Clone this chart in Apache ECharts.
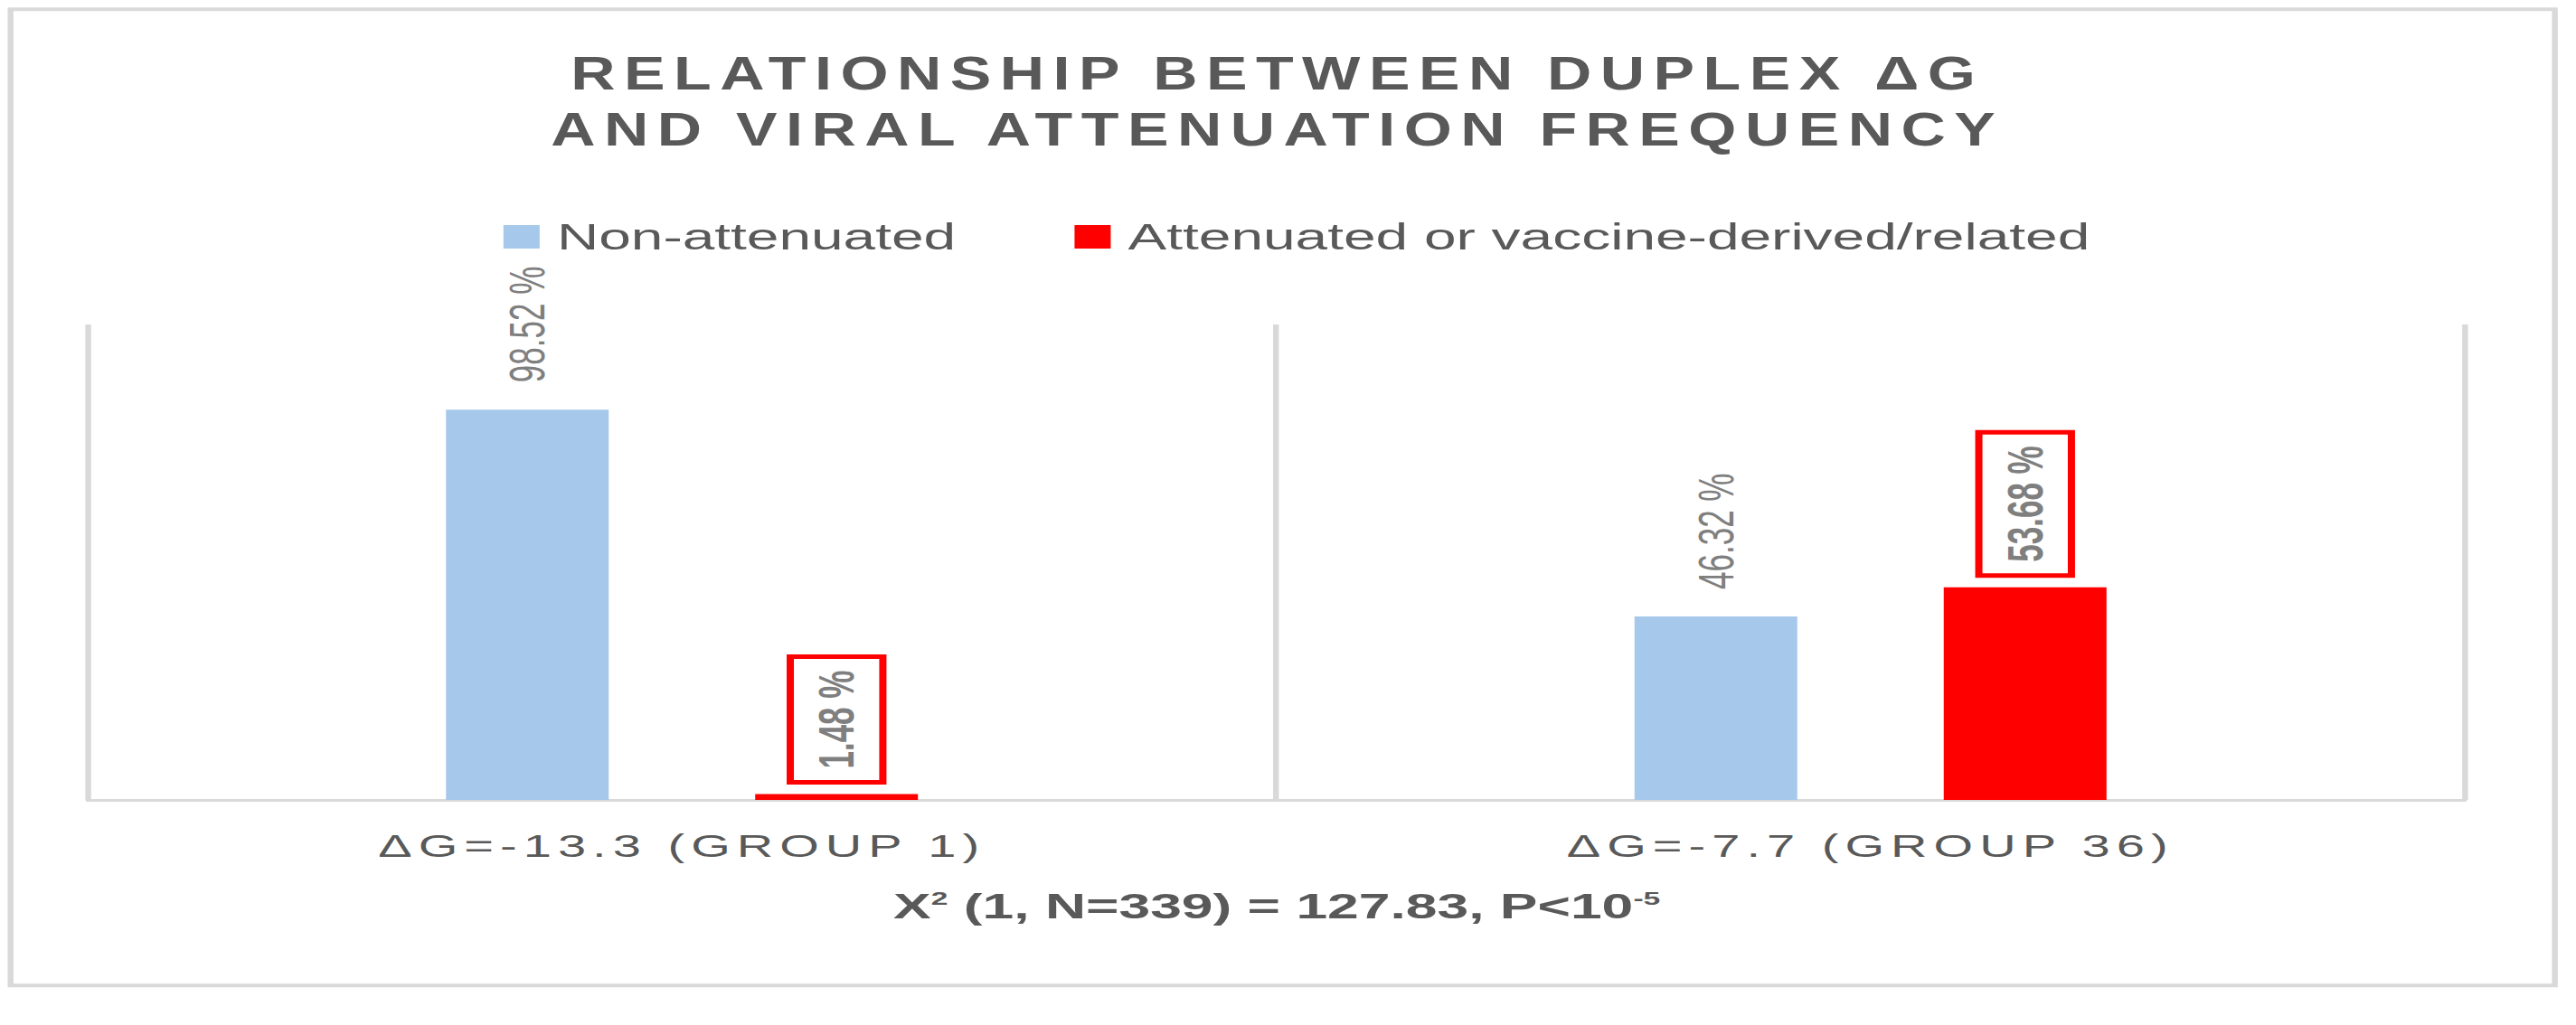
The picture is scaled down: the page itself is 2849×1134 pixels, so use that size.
<!DOCTYPE html>
<html>
<head>
<meta charset="utf-8">
<script src="https://cdn.jsdelivr.net/npm/echarts@6/dist/echarts.min.js"></script>
<style>
html,body{margin:0;padding:0;background:#ffffff;overflow:hidden;}
#wrap{width:2849px;height:1134px;overflow:hidden;}
#c{width:1781px;height:1134px;transform:scaleX(1.6);transform-origin:0 0;}
#c text[style*="LSP"]{letter-spacing:4.4px;}
</style>
</head>
<body>
<div id="wrap"><div id="c"></div></div>
<script>
// ---- data ----
const categories = ['ΔG=-13.3 (GROUP 1)', 'ΔG=-7.7 (GROUP 36)'];
const seriesNames = ['Non-attenuated', 'Attenuated or vaccine-derived/related'];
const nonAttenuated = [98.52, 46.32];
const attenuated = [1.48, 53.68];
const titleLines = ['RELATIONSHIP BETWEEN DUPLEX ΔG', 'AND VIRAL ATTENUATION FREQUENCY'];
const statParts = ['X', '2', ' (1, N=339) = 127.83, P<10', '-5'];
const yMax = 120;

// ---- style ----
const FONT = "'Liberation Sans', Arial, sans-serif";
const SPACED_FONT = "'Liberation Sans', LSP";
const TITLE_FONT = "'Liberation Sans', TSP";
const BLUE = '#a6c9eb';
const RED = '#ff0000';
const DARK = '#595959';
const LABEL_GRAY = '#7f7f7f';
const TITLE_SIZE = 52;
const TITLE_SQUEEZE = 0.82;      // narrow title face
const TITLE_TARGET_WIDTH = 978;  // first title line, before page stretch

// letter spacing for the squeezed title so it keeps the reference width
const ctx = document.createElement('canvas').getContext('2d');
ctx.font = 'bold ' + TITLE_SIZE + "px 'Liberation Sans', sans-serif";
const natural = ctx.measureText(titleLines[0]).width;
const titleSpacing = Math.max(0, (TITLE_TARGET_WIDTH / TITLE_SQUEEZE - natural) / titleLines[0].length);
const st = document.createElement('style');
st.textContent = '#c text[style*="TSP"]{letter-spacing:' + titleSpacing.toFixed(2) + 'px;}';
document.head.appendChild(st);

const chart = echarts.init(document.getElementById('c'), null, { renderer: 'svg' });

const labelBase = {
  show: true,
  position: 'top',
  distance: 30,
  rotate: 90,
  align: 'left',
  verticalAlign: 'middle',
  fontSize: 35,
  lineHeight: 36,
  color: LABEL_GRAY,
  fontFamily: FONT,
  formatter: p => p.value.toFixed(2) + ' %'
};

const option = {
  animation: false,
  backgroundColor: '#ffffff',
  title: [
    {
      text: statParts[0] + '{sup|' + statParts[1] + '}' + statParts[2] + '{sup|' + statParts[3] + '}',
      left: 882.6,
      top: 983,
      textAlign: 'center',
      padding: 0,
      textStyle: {
        fontFamily: FONT,
        fontSize: 39,
        lineHeight: 40,
        fontWeight: 'bold',
        color: DARK,
        rich: {
          sup: {
            fontFamily: FONT,
            fontSize: 21,
            lineHeight: 21,
            fontWeight: 'bold',
            color: DARK,
            verticalAlign: 'top'
          }
        }
      }
    }
  ],
  legend: {
    data: seriesNames,
    left: 348,
    top: 242,
    padding: 0,
    icon: 'rect',
    itemWidth: 25,
    itemHeight: 26,
    itemGap: 82,
    selectedMode: false,
    textStyle: {
      fontFamily: FONT,
      fontSize: 40,
      lineHeight: 40,
      color: DARK,
      padding: [0, 0, 0, 7]
    }
  },
  grid: {
    left: 60.6,
    right: 77.25,
    top: 359,
    bottom: 249,
    containLabel: false
  },
  xAxis: {
    type: 'category',
    data: categories,
    axisLine: { show: true, lineStyle: { color: '#d9d9d9', width: 3 } },
    axisTick: { show: false },
    splitLine: { show: true, lineStyle: { color: '#d9d9d9', width: 4 } },
    axisLabel: {
      interval: 0,
      fontFamily: SPACED_FONT,
      fontSize: 35,
      lineHeight: 35,
      color: DARK,
      margin: 33
    }
  },
  yAxis: {
    type: 'value',
    min: 0,
    max: yMax,
    show: false,
    splitLine: { show: false }
  },
  graphic: [
    {
      type: 'rect',
      silent: true,
      z: -10,
      shape: { x: 7.3, y: 10.3, width: 1758.7, height: 1080 },
      style: { fill: 'transparent', stroke: '#d9d9d9', lineWidth: 4 }
    },
    {
      type: 'text',
      silent: true,
      x: 880 + titleSpacing * TITLE_SQUEEZE / 2,
      y: 112,
      scaleX: TITLE_SQUEEZE,
      scaleY: 1,
      style: {
        text: titleLines.join('\n'),
        fontFamily: TITLE_FONT,
        fontSize: TITLE_SIZE,
        fontWeight: 'bold',
        lineHeight: 63,
        fill: DARK,
        align: 'center',
        verticalAlign: 'middle'
      }
    }
  ],
  series: [
    {
      name: seriesNames[0],
      type: 'bar',
      barWidth: 112.5,
      barGap: '90%',
      itemStyle: { color: BLUE },
      label: labelBase,
      data: nonAttenuated
    },
    {
      name: seriesNames[1],
      type: 'bar',
      barWidth: 112.5,
      barGap: '90%',
      itemStyle: { color: RED },
      label: Object.assign({}, labelBase, {
        distance: 13,
        fontWeight: 'bold',
        borderColor: RED,
        borderWidth: 5,
        padding: [14, 15, 14, 15]
      }),
      data: attenuated
    }
  ]
};

chart.setOption(option);
</script>
</body>
</html>
